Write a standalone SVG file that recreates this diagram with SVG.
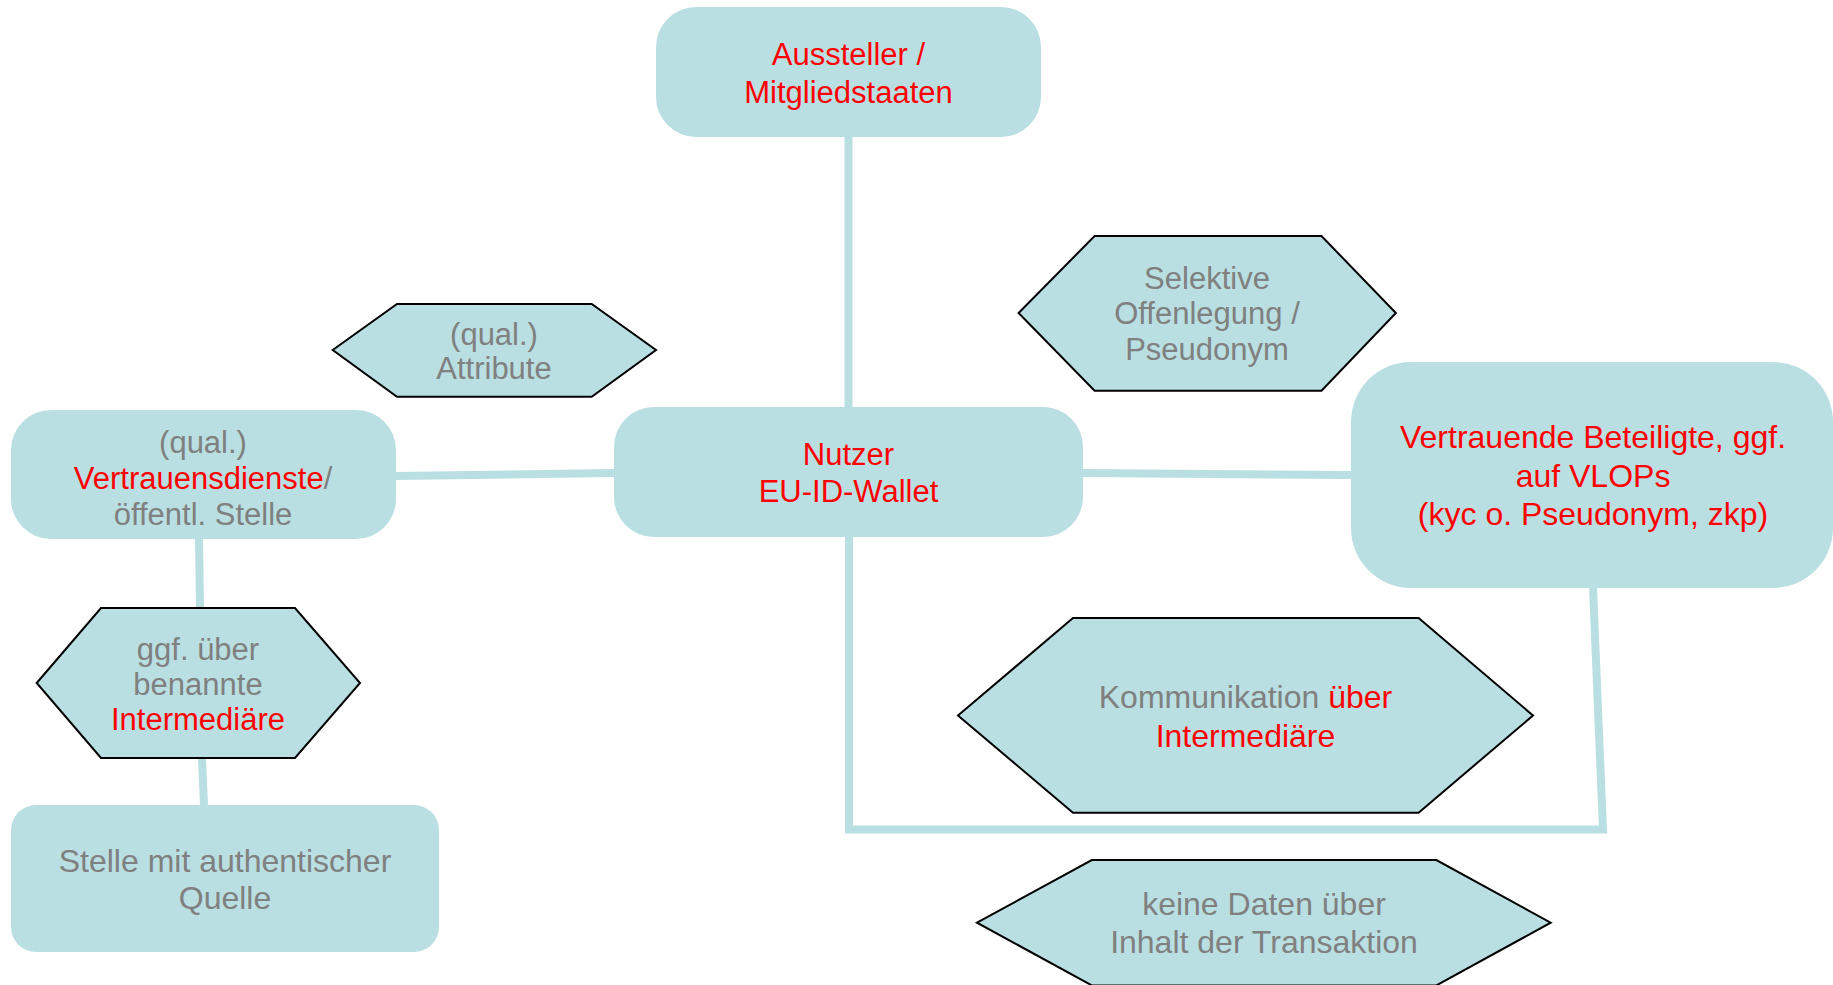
<svg xmlns="http://www.w3.org/2000/svg" width="1833" height="985" viewBox="0 0 1833 985">
<style>
.box{fill:#B9DFE2;stroke:none}
.hex{fill:#B9DFE2;stroke:#000;stroke-width:2;stroke-linejoin:miter}
.con{stroke:#B9DFE2;stroke-width:8;fill:none;stroke-linecap:butt;stroke-linejoin:miter}
text{font-family:"Liberation Sans",Arial,sans-serif;font-size:31px;text-anchor:middle}
.big{font-size:32px}
.r{fill:#FF0000}
.g{fill:#808080}
</style>
<rect width="1833" height="985" fill="#FFFFFF"/>
<g id="connectors">
<line class="con" x1="848.5" y1="137" x2="848.5" y2="407"/>
<line class="con" x1="396" y1="476" x2="614" y2="473"/>
<line class="con" x1="1083" y1="473" x2="1351" y2="475"/>
<line class="con" x1="199" y1="539" x2="200" y2="608"/>
<line class="con" x1="202" y1="758" x2="204" y2="805"/>
<polyline class="con" points="849,537 849,829.5 1603,829.5 1593,588"/>
</g>
<g id="aussteller">
<rect class="box" x="656" y="7" width="385" height="130" rx="40" ry="40"/>
<text class="r" x="848.5" y="65">Aussteller /</text>
<text class="r" x="848.5" y="103">Mitgliedstaaten</text>
</g>
<g id="nutzer">
<rect class="box" x="614" y="407" width="469" height="130" rx="40" ry="40"/>
<text class="r" x="848.5" y="465">Nutzer</text>
<text class="r" x="848.5" y="502">EU-ID-Wallet</text>
</g>
<g id="vertrauensdienste">
<rect class="box" x="11" y="410" width="385" height="129" rx="40" ry="40"/>
<text class="g" x="203" y="453">(qual.)</text>
<text x="203" y="489"><tspan class="r">Vertrauensdienste</tspan><tspan class="g">/</tspan></text>
<text class="g" x="203" y="525">öffentl. Stelle</text>
</g>
<g id="attribute">
<polygon class="hex" points="332.7,350 397,304 591.7,304 656,350 591.7,396.7 397,396.7"/>
<text class="g" x="494" y="345">(qual.)</text>
<text class="g" x="494" y="379">Attribute</text>
</g>
<g id="selektive">
<polygon class="hex" points="1018.6,313 1094.6,236 1321.5,236 1395.9,313 1321.5,390.7 1094.6,390.7"/>
<text class="g" x="1207" y="289">Selektive</text>
<text class="g" x="1207" y="324">Offenlegung /</text>
<text class="g" x="1207" y="360">Pseudonym</text>
</g>
<g id="vertrauende">
<rect class="box" x="1351" y="362" width="482" height="226" rx="60" ry="60"/>
<text class="r big" x="1593" y="448">Vertrauende Beteiligte, ggf.</text>
<text class="r big" x="1593" y="487">auf VLOPs</text>
<text class="r big" x="1593" y="525">(kyc o. Pseudonym, zkp)</text>
</g>
<g id="intermediaere">
<polygon class="hex" points="36.7,683 101,608 295,608 360,683 295,758 101,758"/>
<text class="g" x="198" y="660">ggf. über</text>
<text class="g" x="198" y="695">benannte</text>
<text class="r" x="198" y="730">Intermediäre</text>
</g>
<g id="stelle">
<rect class="box" x="11" y="805" width="428" height="147" rx="25" ry="25"/>
<text class="g big" x="225" y="872">Stelle mit authentischer</text>
<text class="g big" x="225" y="909">Quelle</text>
</g>
<g id="kommunikation">
<polygon class="hex" points="958,715.5 1073,618 1418.6,618 1533,715.5 1418.6,812.7 1073,812.7"/>
<text class="big" x="1245.5" y="708"><tspan class="g">Kommunikation </tspan><tspan class="r">über</tspan></text>
<text class="r big" x="1245.5" y="747">Intermediäre</text>
</g>
<g id="keine-daten">
<polygon class="hex" points="977,922.7 1091.8,860 1436.4,860 1550.7,922.7 1436.4,985.4 1091.8,985.4"/>
<text class="g big" x="1264" y="915">keine Daten über</text>
<text class="g big" x="1264" y="953">Inhalt der Transaktion</text>
</g>
</svg>
